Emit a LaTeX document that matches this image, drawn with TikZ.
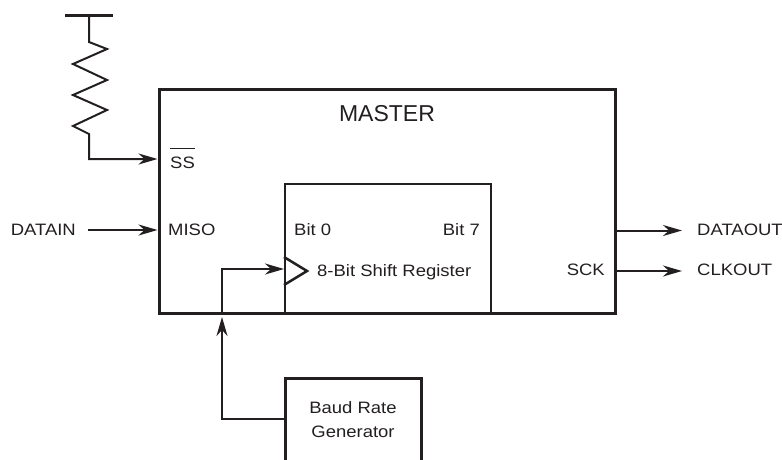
\documentclass[tikz,border=0pt]{standalone}
\usepackage{fontspec}
\setmainfont{Liberation Sans}
\newfontfamily\pinfont{Liberation Sans}[FakeStretch=1.12]
\usepackage{tikz}
\usepackage{xcolor}
\usetikzlibrary{arrows.meta}
\definecolor{ink}{RGB}{35,31,32}
\tikzset{
    master-box/.style = {draw=ink, line width=3pt, rectangle, inner sep=0pt},
    reg-box/.style = {draw=ink, line width=2pt, rectangle, inner sep=0pt},
    sig-label/.style = {text=ink, font=\pinfont\fontsize{16.5pt}{24pt}\selectfont, inner sep=0pt},
    title-label/.style = {text=ink, font=\fontsize{23pt}{28pt}\selectfont, inner sep=0pt},
    wire/.style = {draw=ink, line width=2pt},
    sig-arrow/.style = {wire, -{Stealth[length=19pt, width=11pt, inset=6pt]}},
}

\begin{document}
\begin{tikzpicture}[x=1pt, y=-1pt]
\useasboundingbox (0,0) rectangle (782,459);
% blocks
\node [master-box, minimum width=456pt, minimum height=224pt] (master) at (387,201) {};
\node [reg-box, minimum width=206pt, minimum height=129pt] (reg) at (388,248.5) {};
\node [master-box, minimum width=136pt, minimum height=122pt] (baud) at (353,439) {};
\node [title-label] (title) at (387,113.5) {MASTER};
\node [sig-label, align=center] (baud-text) at (353,420) {Baud Rate\\Generator};
% pins
\node [sig-label, anchor=west] (ss) at (170,162.5) {SS};
\draw [ink, line width=1pt] ([yshift=8pt]ss.north west) -- ([yshift=8pt]ss.north east);
\node [sig-label, anchor=west] (miso) at (168,230) {MISO};
\node [sig-label, anchor=west] (bit0) at (294,230) {Bit 0};
\node [sig-label, anchor=east] (bit7) at (480,230) {Bit 7};
\node [sig-label, anchor=base west] (shift) at (317,276.5) {8-Bit Shift Register};
\node [sig-label, anchor=east] (sck) at (605,270) {SCK};
% outside signals
\node [sig-label, anchor=east] (datain) at (76,230) {DATAIN};
\node [sig-label, anchor=west] (dataout) at (697,229.5) {DATAOUT};
\node [sig-label, anchor=west] (clkout) at (697,270) {CLKOUT};
\draw [sig-arrow] ([xshift=12pt]datain.east) -- (datain -| master.west);
\draw [sig-arrow] ([yshift=-1pt]dataout.west -| master.east) -- ([xshift=-15pt,yshift=-1pt]dataout.west);
\draw [sig-arrow] ([yshift=-1pt]clkout.west -| master.east) -- ([xshift=-15pt,yshift=-1pt]clkout.west);
% pull-up resistor on SS
\coordinate (vcc) at (89,15);
\draw [ink, line width=3pt] (65,15) -- (113,15);
\draw [sig-arrow] (vcc) -- (89,42) -- (107,49) -- (73,64) -- (107,80) -- (73,95)
    -- (107,110) -- (73,126) -- (89,134) |- (master.west |- 0,159);
% clock path
\coordinate (clk-in) at (222,317);
\draw [sig-arrow] (baud.west |- 0,419) -| (clk-in);
\draw [sig-arrow] (master.south -| clk-in) |- (reg.west |- 0,269);
\draw [ink, line width=2.5pt] (reg.west |- 0,257) -- (307,271) -- (reg.west |- 0,285);
\end{tikzpicture}
\end{document}
